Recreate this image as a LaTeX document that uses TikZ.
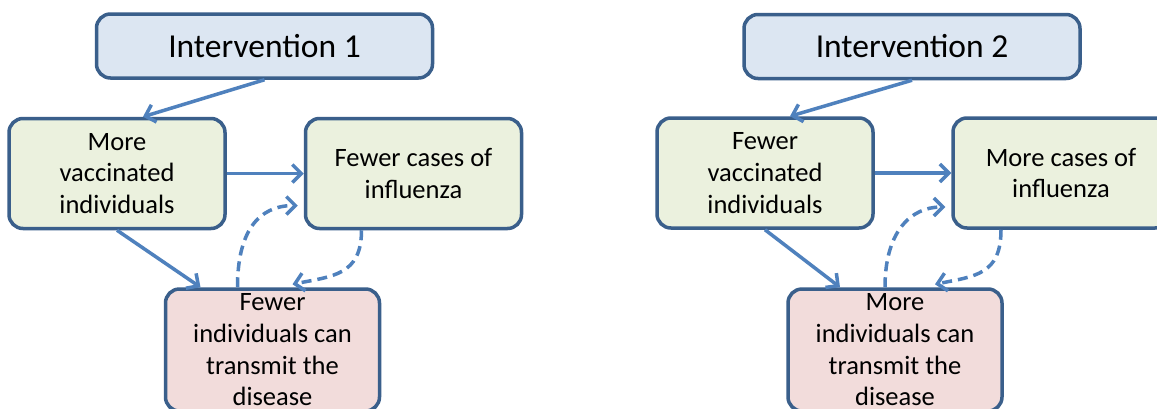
\documentclass[tikz,border=0pt]{standalone}
\usepackage{fontspec}
\setmainfont{Carlito}
\usepackage{tikz}
\usetikzlibrary{arrows.meta}
\definecolor{boxline}{HTML}{3A5F8B}
\definecolor{arrowblue}{HTML}{4F81BD}
\definecolor{intfill}{HTML}{DCE6F2}
\definecolor{effectfill}{HTML}{EBF1DE}
\definecolor{transfill}{HTML}{F2DCDB}

\begin{document}
\begin{tikzpicture}[x=1pt, y=-1pt,
    box/.style={draw=boxline, line width=3.5pt, rounded corners=14pt, align=center, inner sep=0pt,
        font=\fontsize{26.5}{31.7}\selectfont},
    intbox/.style={box, fill=intfill, minimum width=336pt, minimum height=64pt,
        font=\fontsize{33.5}{40}\selectfont},
    effbox/.style={box, fill=effectfill, minimum width=216pt, minimum height=110pt},
    transbox/.style={box, fill=transfill, minimum width=214pt, minimum height=122pt},
    link/.style={draw=arrowblue, line width=3.5pt, -{Straight Barb[length=9pt,width=18pt]}},
    feedback/.style={link, dash pattern=on 10pt off 6pt}]

    % Frame
    \path[use as bounding box, clip] (0,0) rectangle (1157,408);
    \fill[white] (0,0) rectangle (1157,408);

    % Intervention 1
    \node[intbox] (int1) at (264.5,46) {Intervention 1};
    \node[effbox] (vacc1) at (117,173.5) {More\\vaccinated\\individuals};
    \node[effbox] (cases1) at (413.5,173.5) {Fewer cases of\\influenza};
    \node[transbox] (trans1) at (272.5,350) {Fewer\\individuals can\\transmit the\\disease};

    \draw[link] (int1.south) -- ([xshift=26pt]vacc1.north);
    \draw[link] (vacc1.east) -- (cases1.west);
    \draw[link] (vacc1.south) -- ([xshift=-72pt]trans1.north);
    \draw[feedback] ([xshift=-35pt]trans1.north) .. controls +(0,-55) and +(-40,0) .. ([xshift=-6pt,yshift=-32pt]cases1.west);
    \draw[feedback] ([xshift=-52pt]cases1.south) .. controls +(0,45) and +(40,-8) .. ([xshift=20pt,yshift=3pt]trans1.north);

    % Intervention 2
    \node[intbox] (int2) at (912,46.5) {Intervention 2};
    \node[effbox] (vacc2) at (765,173) {Fewer\\vaccinated\\individuals};
    \node[effbox] (cases2) at (1061,173) {More cases of\\influenza};
    \node[transbox] (trans2) at (895,350) {More\\individuals can\\transmit the\\disease};

    \draw[link] (int2.south) -- ([xshift=25pt]vacc2.north);
    \draw[link] (vacc2.east) -- (cases2.west);
    \draw[link] (vacc2.south) -- ([xshift=-55pt]trans2.north);
    \draw[feedback] ([xshift=-10pt]trans2.north) .. controls +(0,-55) and +(-35,0) .. ([xshift=-6pt,yshift=-34pt]cases2.west);
    \draw[feedback] ([xshift=-60pt]cases2.south) .. controls +(0,45) and +(40,-8) .. ([xshift=40pt,yshift=3pt]trans2.north);
\end{tikzpicture}
\end{document}
